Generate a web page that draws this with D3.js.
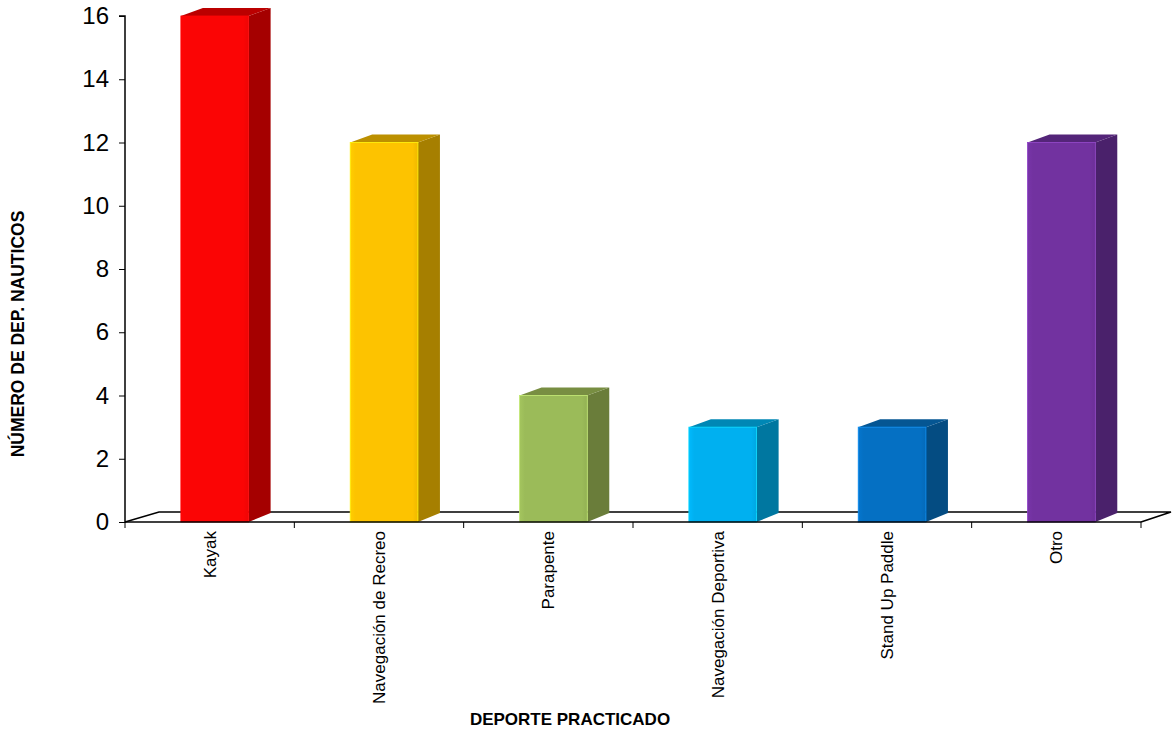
<!DOCTYPE html>
<html>
<head>
<meta charset="utf-8">
<script src="https://cdn.jsdelivr.net/npm/d3@7"></script>
<style>
  html, body { margin: 0; padding: 0; background: #fff; }
  svg { display: block; }
</style>
</head>
<body>
<svg id="chart" width="1172" height="733"></svg>
<script>
const categories = ["Kayak", "Navegación de Recreo", "Parapente", "Navegación Deportiva", "Stand Up Paddle", "Otro"];
const values = [16, 12, 4, 3, 3, 12];
const yTicks = [0, 2, 4, 6, 8, 10, 12, 14, 16];
const frontColors = ["#fb0505", "#fdc300", "#9bbb59", "#00b0f0", "#0570c3", "#7232a0"];
const sideColors = ["#a50000", "#a67f00", "#6a7d3a", "#0077a0", "#044c82", "#4a216b"];
const yTitle = "NÚMERO DE DEP. NAUTICOS";
const xTitle = "DEPORTE PRACTICADO";

const svg = d3.select("#chart");
const pLeft = 125, pRight = 1141, pTop = 16, pBottom = 522;
const floorDx = 32, floorDy = 10;
const barDx = 22, barDy = 8;

const x = d3.scaleBand().domain(categories).range([pLeft, pRight]).padding(0);
const y = d3.scaleLinear().domain([0, 16]).range([pBottom, pTop]);
const bw = x.bandwidth();

const font = "'Liberation Sans Narrow', 'Arial Narrow', 'Liberation Sans', Arial, sans-serif";

const defs = svg.append("defs");
frontColors.forEach((c, i) => {
  const g = defs.append("linearGradient").attr("id", "g" + i).attr("x1", 0).attr("x2", 1).attr("y1", 0).attr("y2", 0);
  const cc = d3.color(c);
  g.append("stop").attr("offset", "0%").attr("stop-color", cc.brighter(0.15));
  g.append("stop").attr("offset", "8%").attr("stop-color", c);
  g.append("stop").attr("offset", "92%").attr("stop-color", c);
  g.append("stop").attr("offset", "100%").attr("stop-color", cc.darker(0.15));
});

// floor
svg.append("path")
  .attr("d", `M${pLeft},${pBottom} L${pLeft + floorDx + 2},${pBottom - floorDy} L${pRight + floorDx - 2},${pBottom - floorDy} L${pRight},${pBottom}`)
  .attr("fill", "none").attr("stroke", "#000").attr("stroke-width", 1.5);

// bars
const bars = svg.append("g").selectAll("g").data(categories).join("g");
bars.each(function(c, i) {
  const g = d3.select(this);
  const x0 = x(c) + bw * 0.33;
  const w = bw * 0.40;
  const x1 = x0 + w;
  const yt = y(values[i]);
  const yb = y(0);
  g.append("path")
    .attr("d", `M${x1},${yt} L${x1 + barDx},${yt - barDy} L${x1 + barDx},${yb - barDy - 1} L${x1},${yb} Z`)
    .attr("fill", sideColors[i]);
  g.append("path")
    .attr("d", `M${x0},${yt} L${x0 + barDx},${yt - barDy} L${x1 + barDx},${yt - barDy} L${x1},${yt} Z`)
    .attr("fill", d3.color(sideColors[i]).brighter(0.35));
  g.append("rect")
    .attr("x", x0).attr("y", yt).attr("width", w).attr("height", yb - yt)
    .attr("fill", `url(#g${i})`)
    .attr("stroke", d3.color(frontColors[i]).brighter(0.6)).attr("stroke-width", 0.8);
});

// front axis line
svg.append("line").attr("x1", pLeft).attr("x2", pRight).attr("y1", pBottom).attr("y2", pBottom)
  .attr("stroke", "#000").attr("stroke-width", 1.5);

// x ticks at band boundaries
const bounds = categories.map(c => x(c)).concat([pRight]);
svg.append("g").selectAll("line").data(bounds).join("line")
  .attr("x1", d => d).attr("x2", d => d).attr("y1", pBottom).attr("y2", pBottom + 6)
  .attr("stroke", "#000").attr("stroke-width", 1);

// y axis
const yAxis = d3.axisLeft(y).tickValues(yTicks).tickSize(6).tickPadding(10);
const ya = svg.append("g").attr("transform", `translate(${pLeft},0)`).call(yAxis);
ya.select(".domain").attr("stroke", "#000").attr("stroke-width", 1.5).attr("d", `M-6,${pTop}H0V${pBottom + 1}`);
ya.selectAll(".tick line").attr("stroke", "#000");
ya.selectAll(".tick text").attr("font-family", "'Liberation Sans', Arial, sans-serif").attr("font-size", 24).attr("fill", "#000");

// category labels
svg.append("g").selectAll("text").data(categories).join("text")
  .attr("transform", c => `translate(${x(c) + bw / 2},531) rotate(-90)`)
  .attr("text-anchor", "end").attr("dy", "0.35em")
  .attr("font-family", font).attr("font-size", 17).attr("fill", "#000")
  .text(c => c);

// titles
svg.append("text").attr("x", 570).attr("y", 725).attr("text-anchor", "middle")
  .attr("font-family", font).attr("font-weight", "bold").attr("font-size", 17).text(xTitle);
svg.append("text").attr("transform", "translate(24,334) rotate(-90)").attr("text-anchor", "middle")
  .attr("font-family", font).attr("font-weight", "bold").attr("font-size", 17.5).text(yTitle);
</script>
</body>
</html>
